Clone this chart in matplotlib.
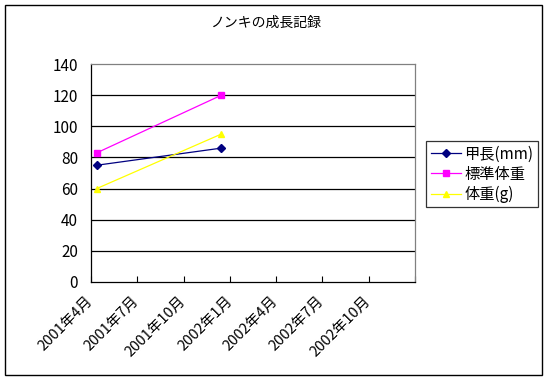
import numpy as np
import matplotlib
matplotlib.use("Agg")
import matplotlib.pyplot as plt
import matplotlib.dates as mdates
import matplotlib.transforms as mtransforms
from matplotlib.patches import Rectangle
import datetime as dt

plt.rcParams['font.family'] = ['Noto Sans CJK JP', 'DejaVu Sans']

# data
dates = [dt.date(2001, 4, 13), dt.date(2001, 12, 14)]
kou_cho = [75, 86]        # 甲長(mm)
hyojun_taiju = [83, 120]  # 標準体重
taiju = [60, 95]          # 体重(g)

tick_dates = [dt.date(2001, 4, 1), dt.date(2001, 7, 1), dt.date(2001, 10, 1),
              dt.date(2002, 1, 1), dt.date(2002, 4, 1), dt.date(2002, 7, 1),
              dt.date(2002, 10, 1), dt.date(2003, 1, 1)]
tick_labels = ['2001年4月', '2001年7月', '2001年10月', '2002年1月',
               '2002年4月', '2002年7月', '2002年10月', '']

W, H = 549, 381
fig = plt.figure(figsize=(W / 100, H / 100), dpi=100)
ax = fig.add_axes([90.7 / W, 1 - 281.7 / H, (415.3 - 90.7) / W, (281.7 - 64.3) / H])

ax.plot(dates, kou_cho, color='#000080', lw=0.9, marker='D', ms=4.5, label='甲長(mm)')
ax.plot(dates, hyojun_taiju, color='#FF00FF', lw=0.9, marker='s', ms=4.5, label='標準体重')
ax.plot(dates, taiju, color='#FFFF00', lw=0.9, marker='^', ms=5, label='体重(g)')

ax.set_xlim(mdates.date2num(tick_dates[0]), mdates.date2num(tick_dates[-1]))
ax.set_ylim(0, 140)
ax.set_yticks(np.arange(0, 141, 20))
ax.set_xticks(mdates.date2num(tick_dates))
ax.set_xticklabels(tick_labels, rotation=45, ha='right', va='top',
                   rotation_mode='anchor', fontsize=10.5)
ax.tick_params(axis='x', direction='in', length=4, width=0.8, pad=9, colors='black')
ax.tick_params(axis='y', length=0, pad=9, labelsize=11)

# shift date labels a little to the left, like the original
shift = mtransforms.ScaledTranslation(-5 / 100, 0, fig.dpi_scale_trans)
for lab in ax.get_xticklabels():
    lab.set_transform(lab.get_transform() + shift)

for y in range(20, 140, 20):
    ax.axhline(y, color='black', lw=0.9, zorder=0)

ax.spines['left'].set_color('black')
ax.spines['bottom'].set_color('black')
ax.spines['top'].set_color('#808080')
ax.spines['right'].set_color('#808080')
for s in ax.spines.values():
    s.set_linewidth(0.9)

fig.text(266 / W, 1 - 23 / H, 'ノンキの成長記録', ha='center', va='center', fontsize=10)

leg = ax.legend(loc='upper left', bbox_to_anchor=(426 / W, 1 - 141 / H),
                bbox_transform=fig.transFigure, frameon=True, fancybox=False,
                edgecolor='black', fontsize=11, handlelength=2.0, handletextpad=0.2,
                borderpad=0.3, labelspacing=0.2, borderaxespad=0)
leg.get_frame().set_linewidth(0.9)

fig.patches.append(Rectangle((5 / W, 1 - 375 / H), 537 / W, 370 / H, fill=False,
                             edgecolor='black', lw=1, transform=fig.transFigure))

fig.savefig('out.png', dpi=100)
